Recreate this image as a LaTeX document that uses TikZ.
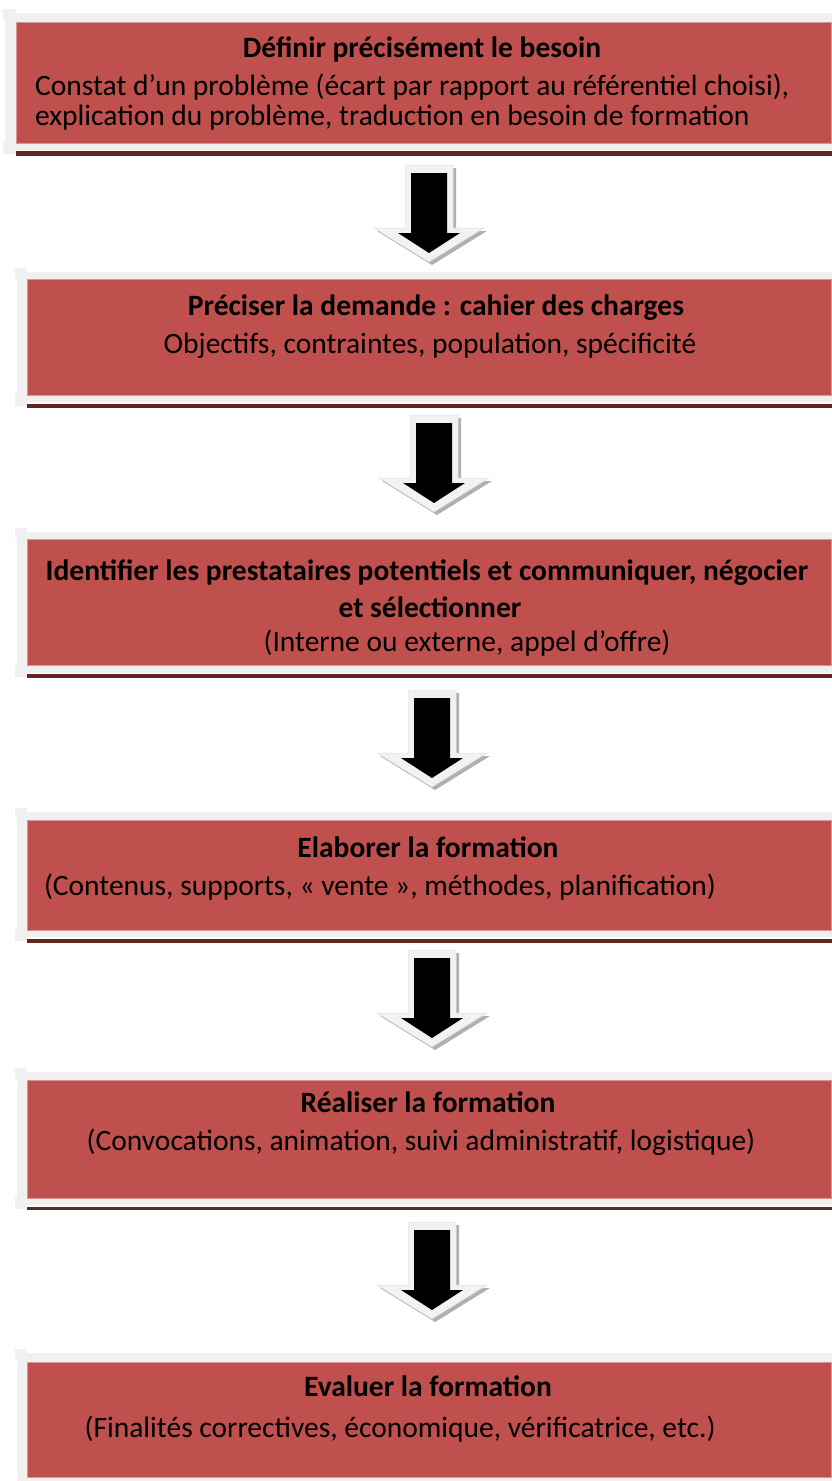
\documentclass[tikz,border=0pt]{standalone}
\usepackage{fontspec}
\setmainfont{Carlito}
\definecolor{boxred}{HTML}{C0504D}
\definecolor{boxedge}{HTML}{D99694}
\definecolor{framegrey}{HTML}{F0F0F0}
\definecolor{barred}{HTML}{632523}
\definecolor{shadowgrey}{HTML}{B0B0B0}
\definecolor{arrowgrey}{HTML}{F2F2F2}
\tikzset{
  txt/.style={font=\fontsize{29.5}{30}\selectfont, anchor=base, inner sep=0pt, text=black},
  ttl/.style={txt, font=\fontsize{29.5}{30}\selectfont\bfseries},
  redbox/.style={rectangle, fill=boxred, draw=boxedge, line width=0.8pt, inner sep=0pt, anchor=north west},
  frame/.style={fill=framegrey},
  bar/.style={fill=barred},
}
% #1 grey left, #2 grey top, #3 grey bottom, #4 red left, #5 red top, #6 red bottom, #7 bar top, #8 bar bottom, #9 name
\newcommand{\stagebox}[9]{%
  \fill[frame] (#1,#2) rectangle (840,#3);
  \fill[frame] (#1-2,#2-4) rectangle (#4,#2+6);
  \fill[frame] (#1-2,#3-8) rectangle (#4,#3+4);
  \node[redbox, minimum width={(831-#4)*1pt}, minimum height={(#6-#5)*1pt}] (#9) at (#4,#5) {};
  \fill[bar] (#4,#7) rectangle (840,#8);
}
% arrow: #1 name, #2 center x, #3 top y
\newcommand{\flowarrow}[3]{%
  \coordinate (#1) at (#2,#3);
  \begin{scope}[shift={(#1)}]
    \fill[shadowgrey] (-21,3) -- (27,3) -- (27,66) -- (58,66) -- (3,100) -- (-52,66) -- (-21,66) -- cycle;
    \filldraw[fill=arrowgrey, draw=black!12, line width=0.5pt] (-24,0) -- (24,0) -- (24,63) -- (55,63) -- (0,97) -- (-55,63) -- (-24,63) -- cycle;
    \fill[black] (-18,8) -- (18,8) -- (18,68) -- (31,68) -- (0,88) -- (-31,68) -- (-18,68) -- cycle;
  \end{scope}
}
\begin{document}
\begin{tikzpicture}[x=1pt,y=-1pt]
\useasboundingbox (0,0) rectangle (832,1481);
\clip (0,0) rectangle (832,1481);
\fill[white] (0,0) rectangle (832,1481);

\stagebox{5}{13}{150}{16}{22}{143}{151}{156}{b1}
\stagebox{17}{272}{402}{27}{279}{395}{404}{408}{b2}
\stagebox{17}{532}{673}{27}{539}{665}{674}{678}{b3}
\stagebox{17}{812}{937}{27}{820}{930}{939}{943}{b4}
\stagebox{17}{1072}{1205}{27}{1080}{1198}{1207}{1210}{b5}
\stagebox{17}{1353}{1490}{27}{1362}{1477}{1495}{1499}{b6}

\flowarrow{a1}{429}{165}
\flowarrow{a2}{434}{415}
\flowarrow{a3}{432}{690}
\flowarrow{a4}{432}{950}
\flowarrow{a5}{432}{1222}

\node[ttl] (t1) at (422,57) {Définir précisément le besoin};
\node[txt, anchor=base west] (s1a) at (35,95) {Constat d’un problème (écart par rapport au référentiel choisi),};
\node[txt, anchor=base west] (s1b) at (35,125) {explication du problème, traduction en besoin de formation};

\node[ttl] (t2) at (436,315) {Préciser la demande : cahier des charges};
\node[txt] (s2) at (430,353) {Objectifs, contraintes, population, spécificité};

\node[ttl] (t3a) at (427,580) {Identifier les prestataires potentiels et communiquer, négocier};
\node[ttl] (t3b) at (430,617) {et sélectionner};
\node[txt] (s3) at (467,651) {(Interne ou externe, appel d’offre)};

\node[ttl] (t4) at (428,857) {Elaborer la formation};
\node[txt] (s4) at (380,895) {(Contenus, supports, « vente », méthodes, planification)};

\node[ttl] (t5) at (428,1112) {Réaliser la formation};
\node[txt] (s5) at (421,1150) {(Convocations, animation, suivi administratif, logistique)};

\node[ttl] (t6) at (428,1396) {Evaluer la formation};
\node[txt] (s6) at (400,1437) {(Finalités correctives, économique, vérificatrice, etc.)};
\end{tikzpicture}
\end{document}
